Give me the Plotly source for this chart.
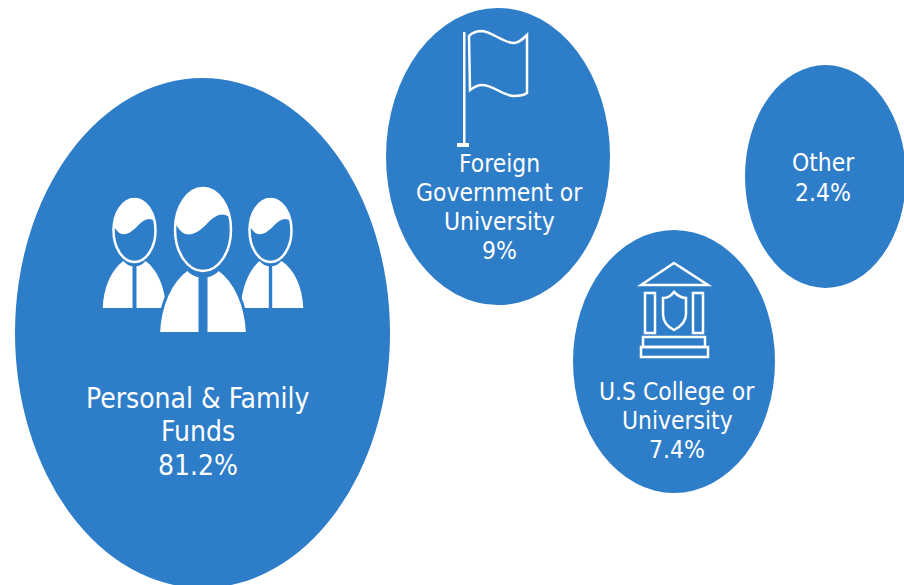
import plotly.graph_objects as go

# Data
category_lines = [["Personal & Family", "Funds"], ["Foreign", "Government or", "University"],
                  ["U.S College or", "University"], ["Other"]]
values = [81.2, 9, 7.4, 2.4]

# Layout of the bubbles (pixel frame of the 904x585 picture)
W, H = 904, 585
BLUE = "#2E7DC8"
WHITE = "#FFFFFF"
bubble_boxes = [(15, 78, 390, 588), (386, 8, 610, 305), (573, 230, 775, 493), (745, 65, 906, 288)]
label_x = [198, 499, 677, 823]
label_first_y = [398, 163, 391, 162]
label_step = [33.5, 29.2, 29.2, 30]
label_sizes = [28, 24.4, 24.4, 24.4]

shapes = []


def add_path(path, fill=None, line=None, width=0):
    shapes.append(dict(type="path", path=path, xref="x", yref="y", layer="above",
                       fillcolor=fill if fill else "rgba(0,0,0,0)",
                       line=dict(color=line if line else "rgba(0,0,0,0)", width=width)))


def add_ellipse(x0, y0, x1, y1, fill=None, line=None, width=0):
    shapes.append(dict(type="circle", xref="x", yref="y", layer="above", x0=x0, y0=y0, x1=x1, y1=y1,
                       fillcolor=fill if fill else "rgba(0,0,0,0)",
                       line=dict(color=line if line else "rgba(0,0,0,0)", width=width)))


def add_rect(x0, y0, x1, y1, fill=None, line=None, width=0):
    shapes.append(dict(type="rect", xref="x", yref="y", layer="above", x0=x0, y0=y0, x1=x1, y1=y1,
                       fillcolor=fill if fill else "rgba(0,0,0,0)",
                       line=dict(color=line if line else "rgba(0,0,0,0)", width=width)))


def person(cx, head_top, head_w, head_h, body_left, body_right, body_top, body_bottom, gap, outline=None):
    hw, hh = head_w / 2, head_h
    u = lambda f: cx + f * hw
    v = lambda f: head_top + f * hh
    p = lambda a, b: f"{u(a):.1f},{v(b):.1f}"
    bl, br = body_left, body_right
    bh = body_bottom - body_top
    bw = (br - bl) / 2
    s = 0.35
    left = (f"M{bl:.1f},{body_bottom} C{bl + bw * 0.03:.1f},{body_top + bh * 0.55:.1f} "
            f"{bl + bw * 0.28:.1f},{body_top + bh * 0.18:.1f} {cx - bw * s:.1f},{body_top:.1f} "
            f"Q{cx - bw * 0.22:.1f},{body_top + bh * 0.1:.1f} {cx - gap:.1f},{body_top + bh * 0.11:.1f} "
            f"L{cx - gap:.1f},{body_bottom} Z")
    right = (f"M{br:.1f},{body_bottom} C{br - bw * 0.03:.1f},{body_top + bh * 0.55:.1f} "
             f"{br - bw * 0.28:.1f},{body_top + bh * 0.18:.1f} {cx + bw * s:.1f},{body_top:.1f} "
             f"Q{cx + bw * 0.22:.1f},{body_top + bh * 0.1:.1f} {cx + gap:.1f},{body_top + bh * 0.11:.1f} "
             f"L{cx + gap:.1f},{body_bottom} Z")
    if outline:
        add_path(left, WHITE, outline, 3)
        add_path(right, WHITE, outline, 3)
    else:
        add_path(left, WHITE)
        add_path(right, WHITE)
    add_ellipse(cx - hw, head_top, cx + hw, head_top + hh, BLUE, WHITE, 2.5)
    hair = (f"M{p(-0.97, 0.42)} C{p(-0.9, 0.15)} {p(-0.5, 0)} {p(0, 0)} "
            f"C{p(0.5, 0)} {p(0.9, 0.15)} {p(0.97, 0.36)} "
            f"C{p(0.7, 0.28)} {p(0.45, 0.33)} {p(0.2, 0.41)} "
            f"C{p(-0.1, 0.52)} {p(-0.45, 0.6)} {p(-0.72, 0.54)} "
            f"C{p(-0.85, 0.5)} {p(-0.95, 0.46)} {p(-0.97, 0.42)} Z")
    add_path(hair, WHITE)


# Bubbles
for x0, y0, x1, y1 in bubble_boxes:
    add_ellipse(x0, y0, x1, y1, BLUE)

# People icon
person(134.5, 199, 42, 63, 102.7, 166, 261, 308, 2)
person(270.5, 199, 42, 63, 240.7, 303.3, 261, 308, 1.7)
person(203, 188, 56, 83, 158.5, 247.5, 269, 333.5, 3, outline=BLUE)

# Flag icon
add_rect(463, 32, 465.5, 143, WHITE)
add_rect(457, 143, 469, 147, WHITE)
add_path("M469,36 C473,32 478,31 482,31 C493,32 503,43 514,43 C519,43 524,38 527,35 L527,93 "
         "C523,96 518,96 513,96 C502,95 493,85 482,85 C478,85 474,87 470,90 Z",
         None, WHITE, 2.5)

# Building icon
add_path("M641,285 L674,263 L708,285 Z", None, WHITE, 2.5)
add_rect(645, 293, 655, 333, None, WHITE, 2.5)
add_rect(693, 293, 703, 333, None, WHITE, 2.5)
add_path("M674,292 C678,296 681,298 686,298 L686,314 C686,322 680,327 674,330 "
         "C668,327 663,322 663,314 L663,298 C668,298 671,296 674,292 Z", None, WHITE, 2.5)
add_rect(643, 337, 705, 347, None, WHITE, 2.5)
add_rect(641, 347, 708, 357, None, WHITE, 2.5)

# Labels
annotations = []
for lines, val, cx, y0, step, size in zip(category_lines, values, label_x, label_first_y, label_step, label_sizes):
    for i, text in enumerate(lines + [f"{val}%"]):
        annotations.append(dict(x=cx, y=y0 + i * step, xref="x", yref="y", showarrow=False, text=text,
                                align="center", xanchor="center", yanchor="middle",
                                font=dict(family="DejaVu Sans Condensed, DejaVu Sans", size=size, color=WHITE)))

fig = go.Figure()
fig.update_layout(
    width=W, height=H, margin=dict(l=0, r=0, t=0, b=0),
    paper_bgcolor=WHITE, plot_bgcolor=WHITE, showlegend=False,
    xaxis=dict(range=[0, W], visible=False, fixedrange=True),
    yaxis=dict(range=[H, 0], visible=False, fixedrange=True),
    shapes=shapes, annotations=annotations,
)
fig.write_html("out.html", config=dict(displayModeBar=False),
               post_script="document.body.style.margin='0';document.body.style.overflow='hidden';")
